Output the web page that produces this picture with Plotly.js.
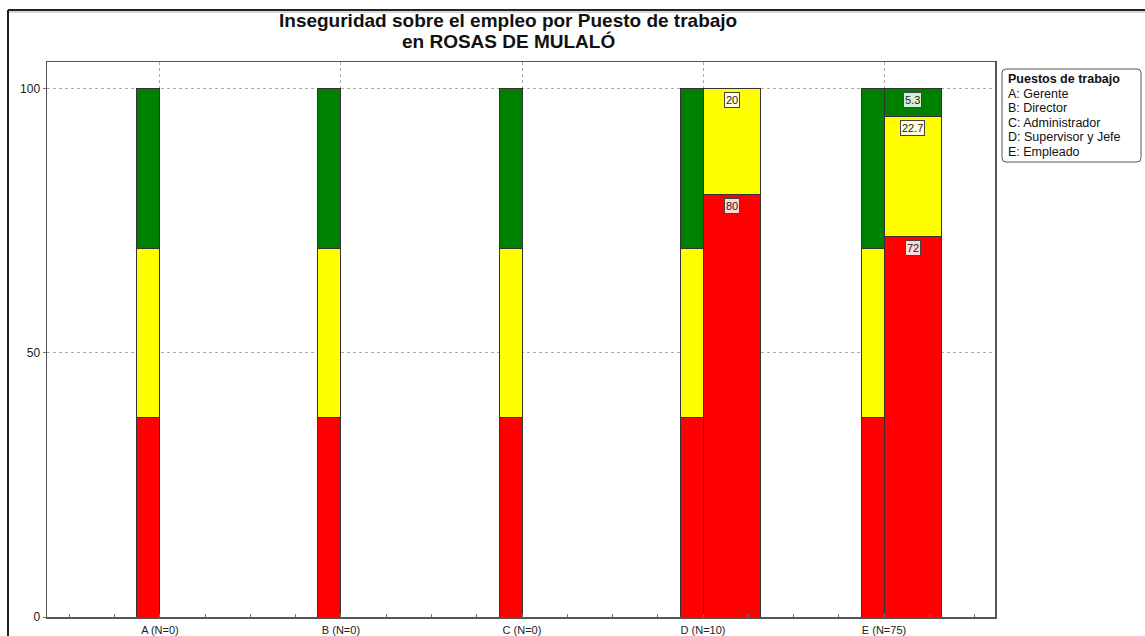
<!DOCTYPE html>
<html>
<head>
<meta charset="utf-8">
<script src="https://cdn.plot.ly/plotly-3.0.1.min.js"></script>
<style>html,body{margin:0;padding:0;background:#fff;}#chart{width:1145px;height:636px;}</style>
</head>
<body>
<div id="chart"></div>
<script>
// ---- data ----
const categories = ["A (N=0)", "B (N=0)", "C (N=0)", "D (N=10)", "E (N=75)"];
const refRed    = [37.7, 37.7, 37.7, 37.7, 37.7];
const refYellow = [32.0, 32.0, 32.0, 32.0, 32.0];
const refGreen  = [30.3, 30.3, 30.3, 30.3, 30.3];
const dataRed    = [null, null, null, 80, 72];
const dataYellow = [null, null, null, 20, 22.7];
const dataGreen  = [null, null, null, null, 5.3];
const legendTitle = "Puestos de trabajo";
const legendItems = ["A: Gerente", "B: Director", "C: Administrador", "D: Supervisor y Jefe", "E: Empleado"];
const titleLines = ["Inseguridad sobre el empleo por Puesto de trabajo", "en ROSAS DE MULALÓ"];

// ---- layout helpers ----
const W = 1145, H = 636;
const M = {l: 47, r: 150, t: 62, b: 19};
const PW = W - M.l - M.r, PH = H - M.t - M.b;
const px = x => (x - M.l) / PW;
const py = y => (H - M.b - y) / PH;
const FONT = "Arial, Liberation Sans, sans-serif";

const xIdx = categories.map((c, i) => i);
const RED = "#ff0000", YEL = "#ffff00", GRN = "#008000";
const refW = 0.127, dataW = 0.315;
const line = {color: "#333333", width: 1};

function refTrace(vals, color) {
  return {type: "bar", x: xIdx, y: vals, xaxis: "x", yaxis: "y",
    width: refW, offset: -refW, marker: {color: color, line: line},
    hoverinfo: "skip", showlegend: false};
}
function dataTrace(vals, color) {
  return {type: "bar", x: xIdx, y: vals, xaxis: "x2", yaxis: "y",
    width: dataW, offset: 0, marker: {color: color, line: line},
    hoverinfo: "skip", showlegend: false};
}
const traces = [
  refTrace(refRed, RED), refTrace(refYellow, YEL), refTrace(refGreen, GRN),
  dataTrace(dataRed, RED), dataTrace(dataYellow, YEL), dataTrace(dataGreen, GRN)
];

// value labels
const annotations = [];
const series = [[dataRed, "#ffd6d6"], [dataYellow, "#ffffdc"], [dataGreen, "#d8eed8"]];
xIdx.forEach(i => {
  let cum = 0;
  series.forEach(([arr, bg]) => {
    const v = arr[i];
    if (v != null && v > 0) {
      cum += v;
      annotations.push({x: i + dataW / 2, y: cum, xref: "x", yref: "y",
        text: String(v), showarrow: false, yanchor: "top", yshift: -3,
        font: {family: FONT, size: 11, color: "#222"},
        bgcolor: bg, bordercolor: "#444", borderwidth: 1, borderpad: 1});
    }
  });
});
// title
titleLines.forEach((t, k) => {
  annotations.push({x: px(508), y: py(20 + 22 * k), xref: "paper", yref: "paper", text: "<b>" + t + "</b>",
    showarrow: false, xanchor: "center", yanchor: "middle",
    font: {family: FONT, size: 19, color: "#111"}});
});
// legend text
[("<b>" + legendTitle + "</b>")].concat(legendItems).forEach((t, k) => {
  annotations.push({x: px(1006), y: py(79 + 14.6 * k), xref: "paper", yref: "paper",
    text: t, showarrow: false, xanchor: "left", yanchor: "middle", align: "left",
    font: {family: FONT, size: 12.5, color: "#111"}});
});

// legend rounded box path
const bx0 = px(1002), bx1 = px(1141), by0 = py(69), by1 = py(162);
const rx = 4 / PW, ry = 4 / PH;
const boxPath = `M ${bx0 + rx} ${by0} L ${bx1 - rx} ${by0} Q ${bx1} ${by0} ${bx1} ${by0 - ry} L ${bx1} ${by1 + ry} Q ${bx1} ${by1} ${bx1 - rx} ${by1} L ${bx0 + rx} ${by1} Q ${bx0} ${by1} ${bx0} ${by1 + ry} L ${bx0} ${by0 - ry} Q ${bx0} ${by0} ${bx0 + rx} ${by0} Z`;

const shapes = [
  {type: "line", xref: "paper", yref: "paper", x0: px(8), x1: px(1150), y0: py(10), y1: py(10), line: {color: "#222", width: 2}},
  {type: "line", xref: "paper", yref: "paper", x0: px(8), x1: px(8), y0: py(10), y1: py(640), line: {color: "#222", width: 2}},
  {type: "line", xref: "paper", yref: "paper", x0: px(9), x1: px(1150), y0: py(12), y1: py(12), line: {color: "#d8d8d8", width: 2}},
  {type: "path", xref: "paper", yref: "paper", path: boxPath, line: {color: "#555", width: 1}, fillcolor: "rgba(0,0,0,0)"}
];

const xr = [-0.624, 4.613];
const layout = {
  width: W, height: H, margin: M, paper_bgcolor: "#fff", plot_bgcolor: "#fff",
  barmode: "stack", showlegend: false,
  font: {family: FONT, size: 11, color: "#222"},
  xaxis: {type: "linear", range: xr, tickvals: xIdx, ticktext: categories, automargin: false,
    showgrid: true, gridcolor: "#aaaaaa", griddash: "dot", gridwidth: 1,
    showline: true, mirror: true, linecolor: "#555", linewidth: 1.5,
    ticks: "", ticklabelstandoff: 2, tickfont: {size: 11, color: "#222"}, zeroline: false,
    minor: {dtick: 0.25, tick0: 0, ticks: "inside", ticklen: 3, tickcolor: "#777", showgrid: false}},
  xaxis2: {type: "linear", range: xr, overlaying: "x", matches: "x", visible: false},
  yaxis: {range: [0, 105.1], tickvals: [0, 50, 100], automargin: false,
    showgrid: true, gridcolor: "#aaaaaa", griddash: "dot", gridwidth: 1,
    showline: true, mirror: true, linecolor: "#555", linewidth: 1.5,
    ticks: "outside", ticklen: 3, tickcolor: "#777", zeroline: false,
    tickfont: {size: 12, color: "#222"}},
  annotations: annotations, shapes: shapes
};
Plotly.newPlot("chart", traces, layout, {displayModeBar: false, staticPlot: true});
</script>
</body>
</html>
